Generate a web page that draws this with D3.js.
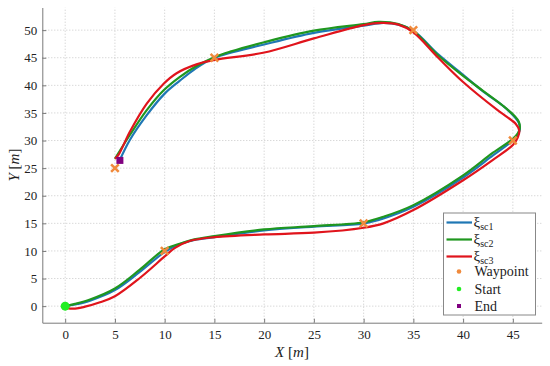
<!DOCTYPE html>
<html>
<head>
<meta charset="utf-8">
<script src="https://cdn.jsdelivr.net/npm/d3@7"></script>
<style>
	body { margin: 0; background: #fff; }
	svg text { font-family: "Liberation Serif", "Times New Roman", "DejaVu Serif", serif !important; fill: #222; }
</style>
</head>
<body>
<svg class="traj" width="550" height="366"></svg>
<script>
// trajectories, [x, y] in metres
const xiSc1 = [[0, 0], [1, 0.3], [2.5, 1.0], [5, 2.9], [7.5, 6.2], [10, 9.8], [11.5, 11.2], [13, 12.0],
	[15, 12.5], [20, 13.7], [25, 14.4], [30, 15.0], [32, 15.9], [35, 18.0], [40, 23.3], [43, 27.3],
	[45, 30.0], [45.5, 31.0], [45.7, 32.0], [45.6, 33.2], [45.2, 34.2], [44, 36.3], [42, 38.9],
	[40, 41.9], [37.5, 45.6], [35, 49.9], [33.5, 51.0], [32, 51.3], [30, 50.8], [25, 49.5],
	[20, 47.4], [15, 45.0], [13, 42.9], [11.5, 40.8], [10, 38.5], [8.2, 34.6], [6.5, 30.1], [5.45, 26.3]];
const xiSc2 = [[0, 0], [1, 0.4], [2.5, 1.2], [5, 3.2], [7.5, 6.6], [10, 10.3], [11.5, 11.3], [13, 12.1],
	[15, 12.7], [20, 13.9], [25, 14.5], [30, 15.2], [32, 16.2], [35, 18.3], [40, 23.7], [43, 27.8],
	[45, 30.3], [45.5, 31.3], [45.7, 32.2], [45.6, 33.4], [45.2, 34.4], [44, 36.3], [42, 39.0],
	[40, 41.7], [37.5, 45.4], [35, 49.8], [33.5, 51.1], [31.5, 51.5], [30, 51.1], [25, 49.9],
	[20, 47.8], [16.6, 46.1], [15, 45.1], [13.2, 43.5], [11.5, 41.5], [9.9, 39.1], [8.2, 35.5], [6.5, 31.0], [5.0, 26.7]];
const xiSc3 = [[0, -0.3], [1, -0.45], [2, -0.1], [3.5, 0.7], [5, 1.8], [7.5, 5.1], [10, 9.0], [11, 10.5],
	[12.5, 11.8], [15, 12.5], [20, 13.0], [25, 13.3], [30, 14.2], [32, 15.0], [35, 17.4], [40, 22.8],
	[43, 26.5], [45, 29.2], [45.5, 30.6], [45.65, 31.8], [45.3, 33.0], [44.4, 34.3], [43.4, 35.6],
	[40, 40.6], [37.5, 45.0], [35, 49.6], [33.5, 51.0], [31.8, 51.3], [30, 50.9], [25, 48.5],
	[19.9, 45.9], [15, 44.6], [13.2, 43.8], [11.2, 42.2], [9.9, 40.3], [8.2, 36.7], [6.5, 31.6], [5.36, 27.4], [5.0, 26.7]];

const waypoints = [[10, 10], [30, 15], [45, 30], [35, 50], [15, 45], [5, 25]];
const startPt = [0, 0];
const endPt = [5.5, 26.4];

const xTicks = [0, 5, 10, 15, 20, 25, 30, 35, 40, 45];
const yTicks = [0, 5, 10, 15, 20, 25, 30, 35, 40, 45, 50];

const series = [
	{ name: "1", data: xiSc1, color: "#1f77b4" },
	{ name: "2", data: xiSc2, color: "#1f971f" },
	{ name: "3", data: xiSc3, color: "#e0141c" }
];

const svg = d3.select(".traj");
const x = d3.scaleLinear().domain([-2.3, 47.9]).range([42.3, 541.7]);
const y = d3.scaleLinear().domain([-3, 54.1]).range([322.7, 7.5]);

// grid
const grid = svg.append("g")
	.attr("stroke", "#c8c8c8")
	.attr("stroke-width", 1)
	.attr("stroke-dasharray", "1,2");
grid.selectAll(".gx")
	.data(xTicks)
	.enter().append("line")
	.attr("x1", (d) => x(d)).attr("x2", (d) => x(d))
	.attr("y1", y.range()[0]).attr("y2", y.range()[1]);
grid.selectAll(".gy")
	.data(yTicks)
	.enter().append("line")
	.attr("y1", (d) => y(d)).attr("y2", (d) => y(d))
	.attr("x1", x.range()[0]).attr("x2", x.range()[1]);

// axes
const xAxis = svg.append("g")
	.attr("transform", "translate(0," + y.range()[0] + ")")
	.call(d3.axisBottom(x).tickValues(xTicks).tickSizeInner(-4).tickSizeOuter(0).tickPadding(7));
const yAxis = svg.append("g")
	.attr("transform", "translate(" + x.range()[0] + ",0)")
	.call(d3.axisLeft(y).tickValues(yTicks).tickSizeInner(-4).tickSizeOuter(0).tickPadding(5));
[xAxis, yAxis].forEach((a) => {
	a.attr("font-family", null).attr("font-size", null);
	a.selectAll("path, line").attr("stroke", "#7a7a7a");
	a.selectAll("text")
		.style("font-size", "13px")
		.attr("fill", "#222");
});

svg.append("text")
	.attr("x", 292)
	.attr("y", 357)
	.attr("text-anchor", "middle")
	.style("font-size", "15px")
	.html('<tspan font-style="italic">X</tspan> [<tspan font-style="italic">m</tspan>]');
svg.append("text")
	.attr("transform", "translate(19,165) rotate(-90)")
	.attr("text-anchor", "middle")
	.style("font-size", "15px")
	.html('<tspan font-style="italic">Y</tspan> [<tspan font-style="italic">m</tspan>]');

// trajectories
const line = d3.line()
	.x((d) => x(d[0]))
	.y((d) => y(d[1]))
	.curve(d3.curveCatmullRom.alpha(0.5));

svg.selectAll(".traj-line")
	.data(series)
	.enter().append("path")
	.attr("class", "traj-line")
	.attr("d", (d) => line(d.data))
	.attr("fill", "none")
	.attr("stroke", (d) => d.color)
	.attr("stroke-width", 2.2)
	.attr("stroke-linejoin", "round");

// markers
const cross = (g, cx, cy, s) => {
	g.append("path")
		.attr("d", `M${cx - s},${cy - s}L${cx + s},${cy + s}M${cx - s},${cy + s}L${cx + s},${cy - s}`)
		.attr("stroke", "#f08a3c")
		.attr("stroke-width", 2.5);
};
const marks = svg.append("g");
waypoints.forEach((d) => cross(marks, x(d[0]), y(d[1]), 3.8));

svg.append("circle")
	.attr("cx", x(startPt[0]))
	.attr("cy", y(startPt[1]))
	.attr("r", 4.5)
	.attr("fill", "#22ee22");
svg.append("rect")
	.attr("x", x(endPt[0]) - 3.5)
	.attr("y", y(endPt[1]) - 3.5)
	.attr("width", 7)
	.attr("height", 7)
	.attr("fill", "#800080");

// legend
const legend = svg.append("g")
	.attr("class", "legend")
	.attr("transform", "translate(443.5,213)");
legend.append("rect")
	.attr("width", 92)
	.attr("height", 102)
	.attr("fill", "#fff")
	.attr("stroke", "#888")
	.attr("stroke-width", 1);

const rowY = [9.5, 26.5, 43.5, 58.5, 76, 93];
series.forEach((s, i) => {
	legend.append("line")
		.attr("x1", 3).attr("x2", 28.5)
		.attr("y1", rowY[i]).attr("y2", rowY[i])
		.attr("stroke", s.color)
		.attr("stroke-width", 2.2);
	legend.append("text")
		.attr("x", 30)
		.attr("y", rowY[i] + 4)
		.style("font-size", "15px")
		.html('ξ<tspan font-size="10px" dy="3">sc' + s.name + '</tspan>');
});

const pointRows = [
	{ label: "Waypoint", color: "#f08a3c", shape: "dot" },
	{ label: "Start", color: "#22ee22", shape: "dot" },
	{ label: "End", color: "#800080", shape: "square" }
];
pointRows.forEach((p, i) => {
	const cy = rowY[i + 3];
	if (p.shape === "dot") {
		legend.append("circle").attr("cx", 15.5).attr("cy", cy).attr("r", 2.3).attr("fill", p.color);
	} else {
		legend.append("rect").attr("x", 13.5).attr("y", cy - 2).attr("width", 4).attr("height", 4).attr("fill", p.color);
	}
	legend.append("text")
		.attr("x", 31)
		.attr("y", cy + 4.5)
		.style("font-size", "14px")
		.text(p.label);
});
</script>
</body>
</html>
